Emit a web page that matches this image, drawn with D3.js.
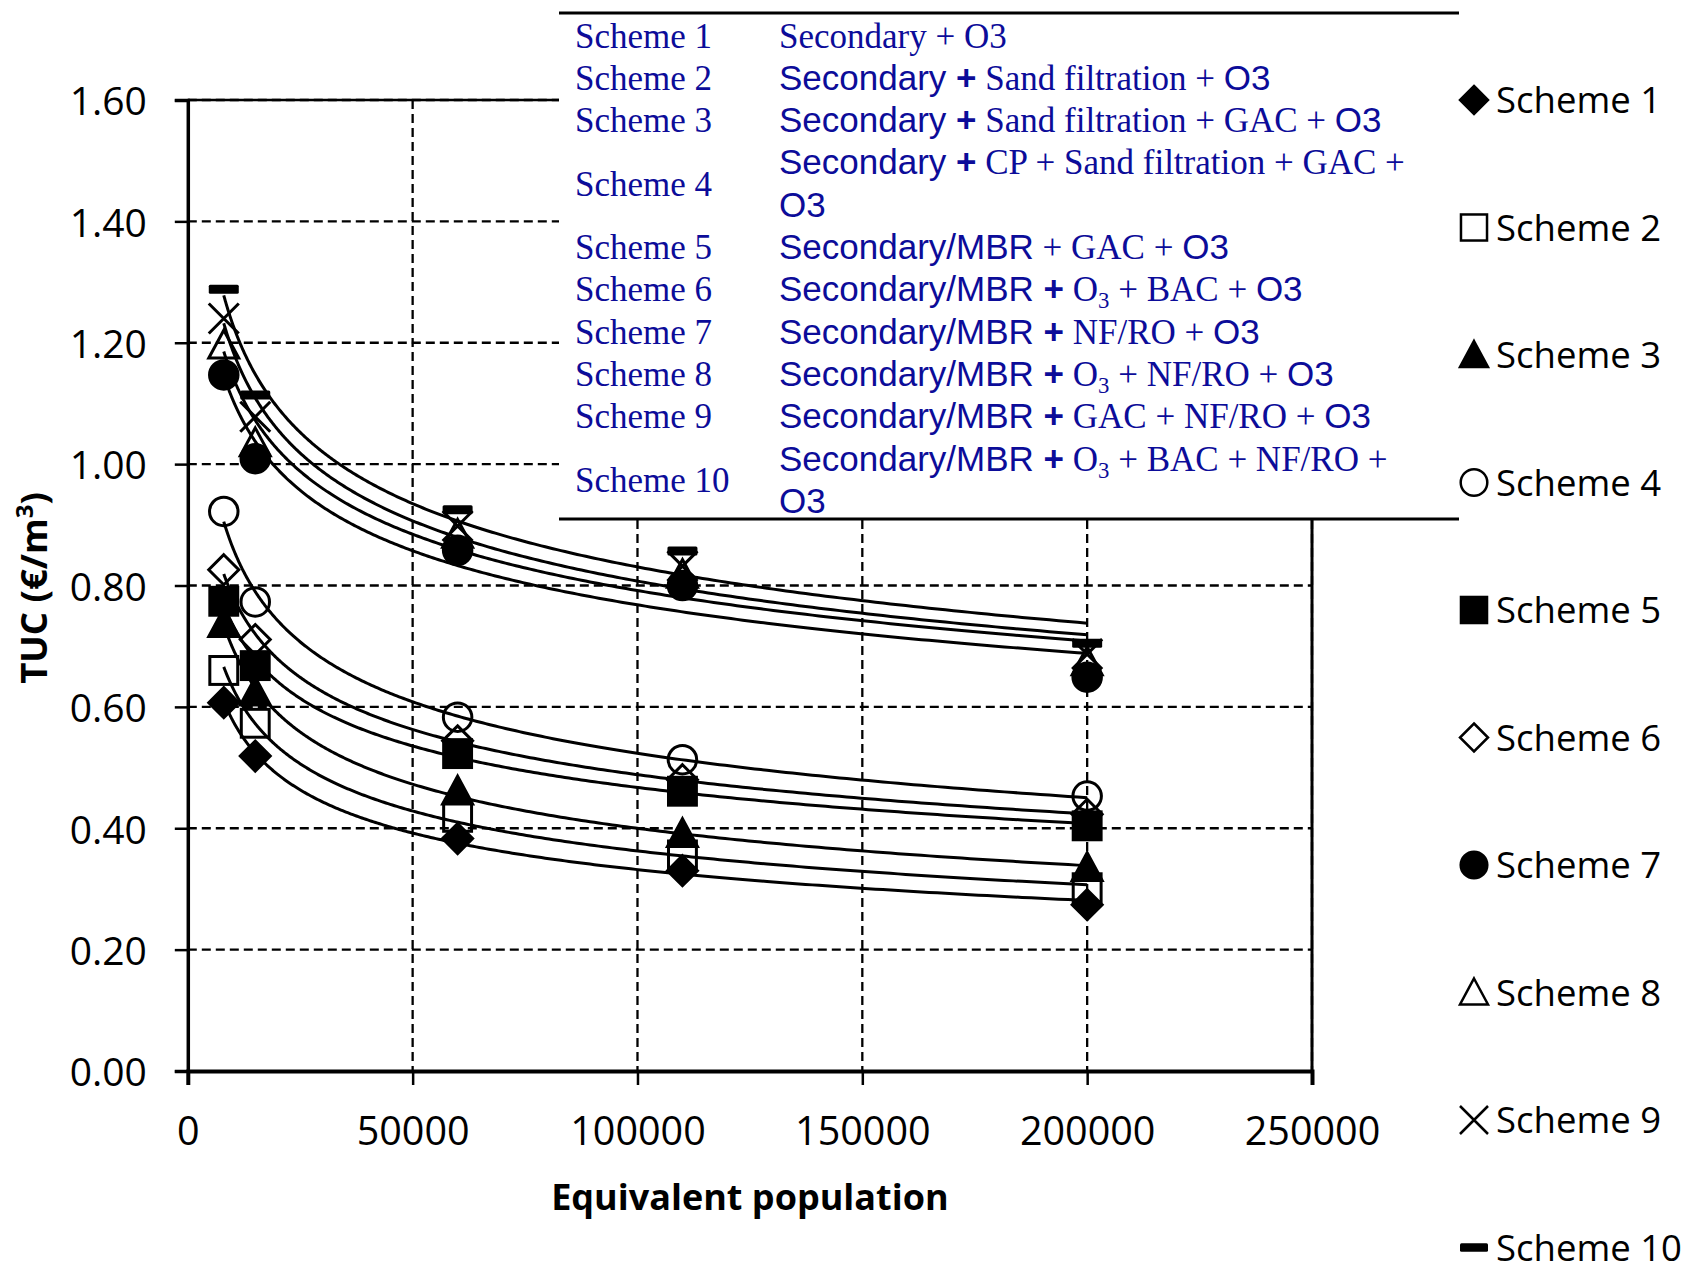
<!DOCTYPE html>
<html><head><meta charset="utf-8">
<script src="https://cdn.jsdelivr.net/npm/d3@7/dist/d3.min.js"></script>
<style>html,body{margin:0;padding:0;background:#fff;} svg{display:block;}</style>
</head><body><svg id="chart" width="1692" height="1274"></svg>
<script>
// ---------------- DATA ----------------
const populations = [8000, 15000, 60000, 110000, 200000];
const schemeNames = ["Scheme 1","Scheme 2","Scheme 3","Scheme 4","Scheme 5","Scheme 6","Scheme 7","Scheme 8","Scheme 9","Scheme 10"];
const scheme1  = [0.607, 0.519, 0.383, 0.330, 0.274];
const scheme2  = [0.660, 0.573, 0.418, 0.356, 0.302];
const scheme3  = [0.737, 0.624, 0.461, 0.391, 0.335];
const scheme4  = [0.922, 0.773, 0.583, 0.513, 0.453];
const scheme5  = [0.774, 0.668, 0.523, 0.461, 0.404];
const scheme6  = [0.826, 0.711, 0.544, 0.480, 0.423];
const scheme7  = [1.147, 1.009, 0.858, 0.800, 0.649];
const scheme8  = [1.196, 1.035, 0.884, 0.818, 0.674];
const scheme9  = [1.240, 1.078, 0.898, 0.832, 0.687];
const scheme10 = [1.288, 1.114, 0.925, 0.857, 0.705];
const seriesValues = [scheme1, scheme2, scheme3, scheme4, scheme5, scheme6, scheme7, scheme8, scheme9, scheme10];
const markerTypes = ["diamondFilled","squareOpen","triangleFilled","circleOpen","squareFilled","diamondOpen","circleFilled","triangleOpen","cross","dash"];
const xTicks = [0, 50000, 100000, 150000, 200000, 250000];
const xTickLabels = ["0","50000","100000","150000","200000","250000"];
const yTicks = [0, 0.2, 0.4, 0.6, 0.8, 1.0, 1.2, 1.4, 1.6];
const yTickLabels = ["0.00","0.20","0.40","0.60","0.80","1.00","1.20","1.40","1.60"];
const xTitle = "Equivalent population";
const yTitle = "TUC (€/m";
// table: a = sans, b = sans bold, s = serif, sub = serif subscript
const tableLabels = ["Scheme 1","Scheme 2","Scheme 3","Scheme 4","Scheme 5","Scheme 6","Scheme 7","Scheme 8","Scheme 9","Scheme 10"];
const tableDescriptions = [
  [[["Secondary + O3","s"]]],
  [[["Secondary ","a"],["+","b"],[" Sand filtration + ","s"],["O3","a"]]],
  [[["Secondary ","a"],["+","b"],[" Sand filtration + GAC + ","s"],["O3","a"]]],
  [[["Secondary ","a"],["+","b"],[" CP + Sand filtration + GAC +","s"]],[["O3","a"]]],
  [[["Secondary/MBR","a"],[" + GAC + ","s"],["O3","a"]]],
  [[["Secondary/MBR ","a"],["+","b"],[" O","s"],["3","sub"],[" + BAC + ","s"],["O3","a"]]],
  [[["Secondary/MBR ","a"],["+","b"],[" NF/RO + ","s"],["O3","a"]]],
  [[["Secondary/MBR ","a"],["+","b"],[" O","s"],["3","sub"],[" + NF/RO + ","s"],["O3","a"]]],
  [[["Secondary/MBR ","a"],["+","b"],[" GAC + NF/RO + ","s"],["O3","a"]]],
  [[["Secondary/MBR ","a"],["+","b"],[" O","s"],["3","sub"],[" + BAC + NF/RO +","s"]],[["O3","a"]]]
];

// ---------------- LAYOUT ----------------
const svg = d3.select("#chart");
svg.append("rect").attr("width",1692).attr("height",1274).attr("fill","#fff");
const X0 = 187.8, X1 = 1312, YB = 1071, YT = 100;
const x = d3.scaleLinear().domain([0,250000]).range([X0,X1]);
const y = d3.scaleLinear().domain([0,1.6]).range([YB,YT]);
const SANS = "'Open Sans', 'DejaVu Sans', sans-serif";
const SERIF = "'Liberation Serif', 'DejaVu Serif', serif";
const ARIAL = "'Liberation Sans', Arial, sans-serif";
const BLUE = "#0c0c99";

// gridlines
const grid = svg.append("g").attr("stroke","#000").attr("stroke-width",2.3).attr("stroke-dasharray","9,5");
grid.selectAll("line.h").data(yTicks.filter(d=>d>0)).join("line")
  .attr("x1",X0).attr("x2",X1).attr("y1",d=>y(d)).attr("y2",d=>y(d));
grid.selectAll("line.v").data(xTicks.filter(d=>d>0)).join("line")
  .attr("y1",YT).attr("y2",YB).attr("x1",d=>x(d)).attr("x2",d=>x(d));

// plot border
svg.append("line").attr("x1",X0).attr("x2",X1).attr("y1",YT).attr("y2",YT).attr("stroke","#000").attr("stroke-width",2.5);
svg.append("line").attr("x1",X1).attr("x2",X1).attr("y1",YT).attr("y2",YB).attr("stroke","#000").attr("stroke-width",3);

// axes
const yAxis = d3.axisLeft(y).tickValues(yTicks).tickFormat((d,i)=>yTickLabels[i]).tickSize(13).tickPadding(28);
const gy = svg.append("g").attr("transform",`translate(${X0},0)`).call(yAxis);
gy.select(".domain").attr("stroke","#000").attr("stroke-width",3.5);
gy.selectAll(".tick line").attr("stroke","#000").attr("stroke-width",2.5);
gy.selectAll(".tick text").attr("font-family",SANS).attr("font-size",39).attr("fill","#000").attr("dy","0.38em");

const xAxis = d3.axisBottom(x).tickValues(xTicks).tickFormat((d,i)=>xTickLabels[i]).tickSize(14).tickPadding(24);
const gx = svg.append("g").attr("transform",`translate(0,${YB})`).call(xAxis);
gx.select(".domain").attr("stroke","#000").attr("stroke-width",4);
gx.selectAll(".tick line").attr("stroke","#000").attr("stroke-width",2.5);
gx.selectAll(".tick text").attr("font-family",SANS).attr("font-size",39.5).attr("fill","#000").attr("dy","0.9em");

// axis titles
svg.append("text").attr("x",(X0+X1)/2).attr("y",1210).attr("text-anchor","middle")
  .attr("font-family",SANS).attr("font-weight","bold").attr("font-size",36).text(xTitle);
const yt = svg.append("text").attr("transform","translate(47,588) rotate(-90)").attr("text-anchor","middle")
  .attr("font-family",SANS).attr("font-weight","bold").attr("font-size",36.5);
yt.append("tspan").text(yTitle);
yt.append("tspan").attr("font-size",24).attr("dy",-14).text("3");
yt.append("tspan").attr("dy",14).text(")");

// power trendlines fitted to each series
function powerFit(xs, ys){
  const lx = xs.map(Math.log), ly = ys.map(Math.log);
  const mx = d3.mean(lx), my = d3.mean(ly);
  const b = d3.sum(lx,(v,i)=>(v-mx)*(ly[i]-my)) / d3.sum(lx,v=>(v-mx)*(v-mx));
  const a = Math.exp(my - b*mx);
  return t => a*Math.pow(t,b);
}
const line = d3.line().x(d=>x(d[0])).y(d=>y(d[1]));
const xmin = d3.min(populations), xmax = d3.max(populations);
seriesValues.forEach(vals=>{
  const f = powerFit(populations, vals);
  const pts = d3.range(0,301).map(i=>{ const t = xmin*Math.pow(xmax/xmin,i/300); return [t, f(t)]; });
  svg.append("path").attr("d",line(pts)).attr("fill","none").attr("stroke","#000").attr("stroke-width",3);
});

// markers
function drawMarker(g, type, cx, cy, s, sw){
  const h = s/2;
  switch(type){
    case "diamondFilled": case "diamondOpen":
      g.append("path").attr("d",`M${cx},${cy-h}L${cx+h},${cy}L${cx},${cy+h}L${cx-h},${cy}Z`)
        .attr("fill",type==="diamondFilled"?"#000":"none").attr("stroke","#000").attr("stroke-width",sw).attr("stroke-linejoin","miter");
      break;
    case "squareFilled": case "squareOpen": {
      const q = h*0.93;
      g.append("rect").attr("x",cx-q).attr("y",cy-q).attr("width",2*q).attr("height",2*q)
        .attr("fill",type==="squareFilled"?"#000":"none").attr("stroke","#000").attr("stroke-width",sw);
      break; }
    case "triangleFilled": case "triangleOpen":
      g.append("path").attr("d",`M${cx},${cy-h}L${cx+h},${cy+h*0.85}L${cx-h},${cy+h*0.85}Z`)
        .attr("fill",type==="triangleFilled"?"#000":"none").attr("stroke","#000").attr("stroke-width",sw).attr("stroke-linejoin","miter");
      break;
    case "circleFilled": case "circleOpen":
      g.append("circle").attr("cx",cx).attr("cy",cy).attr("r",h*0.95)
        .attr("fill",type==="circleFilled"?"#000":"none").attr("stroke","#000").attr("stroke-width",sw);
      break;
    case "cross":
      g.append("path").attr("d",`M${cx-h},${cy-h}L${cx+h},${cy+h}M${cx+h},${cy-h}L${cx-h},${cy+h}`)
        .attr("stroke","#000").attr("stroke-width",sw);
      break;
    case "dash":
      g.append("rect").attr("x",cx-h).attr("y",cy-s*0.15).attr("width",s).attr("height",s*0.3).attr("rx",1.5)
        .attr("fill","#000");
      break;
  }
}
const mg = svg.append("g");
seriesValues.forEach((vals,si)=>{
  vals.forEach((v,i)=>drawMarker(mg, markerTypes[si], x(populations[i]), y(v), 30, 3));
});

// ---------------- TABLE ----------------
const tb = svg.append("g");
tb.append("rect").attr("x",559).attr("y",13).attr("width",900).attr("height",506).attr("fill","#fff");
tb.append("line").attr("x1",559).attr("x2",1459).attr("y1",13).attr("y2",13).attr("stroke","#000").attr("stroke-width",3);
tb.append("line").attr("x1",559).attr("x2",1459).attr("y1",519).attr("y2",519).attr("stroke","#000").attr("stroke-width",3);
const baseY = 47.5, rowH = 42.3, FS = 35;
let lineIdx = 0;
tableDescriptions.forEach((lines,ri)=>{
  const nl = lines.length;
  const labY = baseY + rowH*(lineIdx + (nl-1)/2);
  tb.append("text").attr("x",575).attr("y",labY).attr("font-family",SERIF).attr("font-size",FS).attr("fill",BLUE).text(tableLabels[ri]);
  lines.forEach((segs,li)=>{
    const t = tb.append("text").attr("x",779).attr("y",baseY + rowH*(lineIdx+li)).attr("font-size",FS).attr("fill",BLUE)
      .attr("xml:space","preserve").style("white-space","pre");
    let shifted = false;
    segs.forEach(([txt,st])=>{
      const sp = t.append("tspan").text(txt);
      if(st==="a"){ sp.attr("font-family",ARIAL); }
      else if(st==="b"){ sp.attr("font-family",ARIAL).attr("font-weight","bold"); }
      else if(st==="s"){ sp.attr("font-family",SERIF); }
      else if(st==="sub"){ sp.attr("font-family",SERIF).attr("font-size",FS*0.65).attr("dy",7); shifted = true; return; }
      if(shifted){ sp.attr("dy",-7); shifted = false; }
    });
  });
  lineIdx += nl;
});

// ---------------- LEGEND ----------------
const lg = svg.append("g");
schemeNames.forEach((nm,i)=>{
  const cy = 100 + 127.5*i;
  drawMarker(lg, markerTypes[i], 1474, cy, 28, 2.5);
  lg.append("text").attr("x",1496).attr("y",cy).attr("dy","0.36em").attr("font-family",SANS).attr("font-size",36.5).attr("fill","#000").text(nm);
});
</script></body></html>
